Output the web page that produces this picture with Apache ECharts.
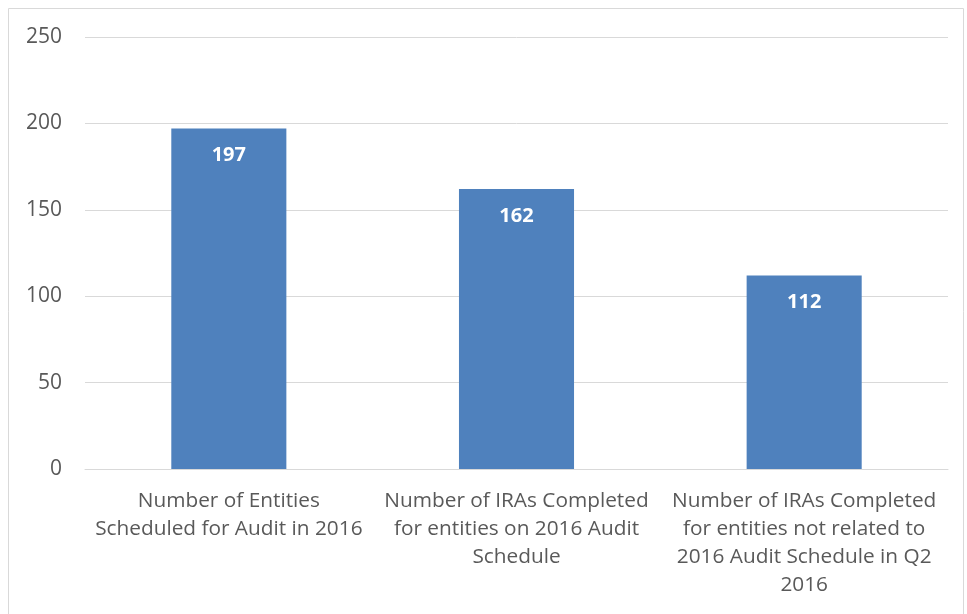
<!DOCTYPE html>
<html>
<head>
<meta charset="utf-8">
<script src="https://cdn.jsdelivr.net/npm/echarts@6/dist/echarts.min.js"></script>
<style>
  html, body { margin: 0; padding: 0; background: #fff; }
  #chart { width: 967px; height: 614px; }
</style>
</head>
<body>
<div id="chart"></div>
<script>
// chart data
const categories = [
  'Number of Entities\nScheduled for Audit in 2016',
  'Number of IRAs Completed\nfor entities on 2016 Audit\nSchedule',
  'Number of IRAs Completed\nfor entities not related to\n2016 Audit Schedule in Q2\n2016'
]
const values = [197, 162, 112]
const yTicks = [0, 50, 100, 150, 200, 250]

const fontFamily = '"Open Sans", "Liberation Sans", sans-serif'

const chart = echarts.init(document.getElementById('chart'))
const option = {
  animation: false,
  graphic: [
    {
      type: 'rect',
      shape: { x: 8.5, y: 8.5, width: 955, height: 640 },
      style: { fill: 'none', stroke: '#d9d9d9', lineWidth: 1 },
      silent: true
    }
  ],
  grid: {
    left: 85,
    right: 19,
    top: 37,
    bottom: 145
  },
  xAxis: {
    type: 'category',
    data: categories,
    axisLine: { lineStyle: { color: '#d9d9d9', width: 1 } },
    axisTick: { show: false },
    axisLabel: {
      interval: 0,
      margin: 18,
      color: '#595959',
      fontSize: 20.8,
      lineHeight: 28,
      fontFamily: fontFamily
    }
  },
  yAxis: {
    type: 'value',
    min: yTicks[0],
    max: yTicks[yTicks.length - 1],
    interval: 50,
    axisLine: { show: false },
    axisTick: { show: false },
    splitLine: { lineStyle: { color: '#d9d9d9', width: 1 } },
    axisLabel: {
      margin: 23,
      color: '#595959',
      fontSize: 21,
      fontFamily: fontFamily
    }
  },
  series: [
    {
      type: 'bar',
      data: values,
      barWidth: '40%',
      itemStyle: { color: '#4f81bd' },
      label: {
        show: true,
        position: 'insideTop',
        distance: 17,
        color: '#fff',
        fontWeight: 'bold',
        fontSize: 20,
        fontFamily: fontFamily
      }
    }
  ]
}
chart.setOption(option)
</script>
</body>
</html>
